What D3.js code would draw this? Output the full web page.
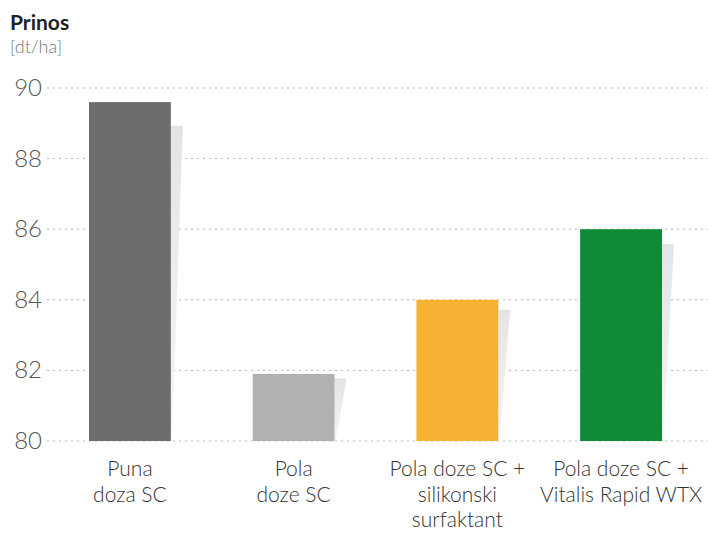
<!DOCTYPE html>
<html>
<head>
<meta charset="utf-8">
<script src="https://cdn.jsdelivr.net/npm/d3@7"></script>
<style>
  body { margin: 0; background: #fff; }
  text { font-family: "Lato Light", Lato, "Open Sans", sans-serif; }
  .bold { font-family: Lato, "Open Sans", sans-serif; }
</style>
</head>
<body>
<svg id="chart" width="708" height="533"></svg>
<script>
// data
const categories = [
  ["Puna", "doza SC"],
  ["Pola", "doze SC"],
  ["Pola doze SC +", "silikonski", "surfaktant"],
  ["Pola doze SC +", "Vitalis Rapid WTX"]
];
const values = [89.6, 81.9, 84.0, 86.0];
const colors = ["#6d6d6d", "#b1b1b1", "#f6b232", "#0d8b37"];
const yTicks = [80, 82, 84, 86, 88, 90];

const svg = d3.select("#chart");

// scales
const x = d3.scaleBand()
  .domain(d3.range(values.length))
  .range([89, 662])
  .paddingInner(0.5)
  .paddingOuter(0);

const y = d3.scaleLinear()
  .domain([80, 90])
  .range([441, 88]);

// grid lines + tick labels
const grid = svg.append("g");
grid.selectAll("line")
  .data(yTicks)
  .enter().append("line")
    .attr("x1", 47)
    .attr("x2", 708)
    .attr("y1", d => y(d))
    .attr("y2", d => y(d))
    .attr("stroke", "#b5b5b5")
    .attr("stroke-width", 1)
    .attr("stroke-dasharray", "2,4");

grid.selectAll("text")
  .data(yTicks)
  .enter().append("text")
    .attr("x", 42)
    .attr("y", d => y(d) + 8)
    .attr("text-anchor", "end")
    .attr("font-size", "24px")
    .attr("font-weight", 300)
    .attr("fill", "#555")
    .text(d => d);

// shadow gradient
const defs = svg.append("defs");
const grad = defs.append("linearGradient")
  .attr("id", "shade")
  .attr("x1", 0).attr("y1", 0).attr("x2", 0).attr("y2", 1);
grad.append("stop").attr("offset", "0%").attr("stop-color", "#e4e4e8");
grad.append("stop").attr("offset", "100%").attr("stop-color", "#f6f6f8");

// shadows behind the bars
svg.append("g").selectAll("path")
  .data(values)
  .enter().append("path")
    .attr("d", (d, i) => {
      const xr = x(i) + x.bandwidth();
      const h = y(80) - y(d);
      const top = y(d) + h * 0.07;
      return `M${xr},${top} L${xr + 12},${top} L${xr + 1},${y(80)} L${xr},${y(80)} Z`;
    })
    .attr("fill", "url(#shade)");

// bars
svg.append("g").selectAll("rect")
  .data(values)
  .enter().append("rect")
    .attr("x", (d, i) => x(i))
    .attr("y", d => y(d))
    .attr("width", x.bandwidth())
    .attr("height", d => y(80) - y(d))
    .attr("fill", (d, i) => colors[i]);

// category labels
const labels = svg.append("g").selectAll("text")
  .data(categories)
  .enter().append("text")
    .attr("x", (d, i) => x(i) + x.bandwidth() / 2)
    .attr("y", 476)
    .attr("text-anchor", "middle")
    .attr("font-size", "21px")
    .attr("font-weight", 300)
    .attr("fill", "#333");

labels.selectAll("tspan")
  .data(d => d)
  .enter().append("tspan")
    .attr("x", function() { return d3.select(this.parentNode).attr("x"); })
    .attr("dy", (d, i) => i === 0 ? 0 : 25.5)
    .text(d => d);

// title
svg.append("text")
  .attr("class", "bold")
  .attr("x", 10)
  .attr("y", 30)
  .attr("font-size", "21px")
  .attr("font-weight", 700)
  .attr("fill", "#222")
  .text("Prinos");

svg.append("text")
  .attr("x", 10)
  .attr("y", 53)
  .attr("font-size", "18px")
  .attr("font-weight", 300)
  .attr("fill", "#777")
  .text("[dt/ha]");
</script>
</body>
</html>
